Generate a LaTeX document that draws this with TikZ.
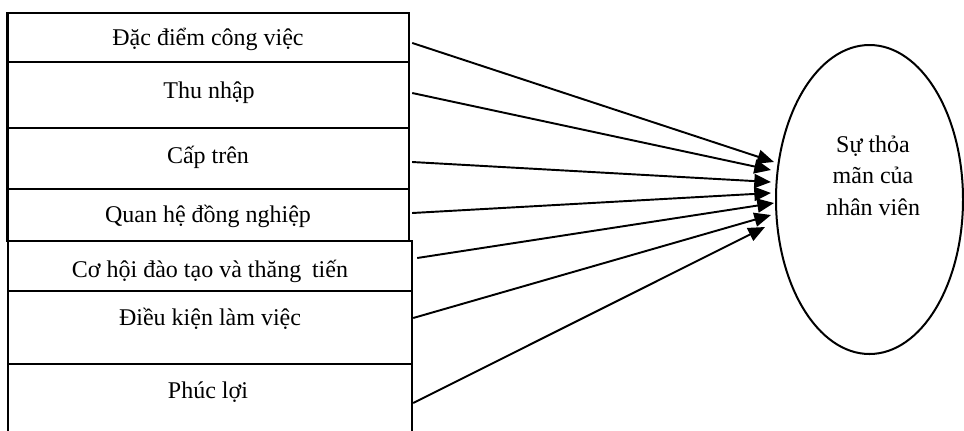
\documentclass[tikz,border=0pt]{standalone}
\usepackage{fontspec}
\setmainfont{Liberation Serif}
\usetikzlibrary{arrows.meta,shapes.geometric,calc,fit}
\begin{document}
\begin{tikzpicture}[x=0.75pt,y=-0.75pt,
  box/.style={draw,line width=1.8pt,inner sep=0pt},
  lbl/.style={anchor=base,inner sep=0pt,font=\fontsize{18}{22}\selectfont},
  goal/.style={draw,ellipse,line width=1.5pt,inner sep=0pt,minimum width=140.25pt,minimum height=231.75pt},
  arr/.style={line width=1.45pt,-{Triangle[length=12.5pt,width=10.5pt]}}]
\useasboundingbox (0,0) rectangle (964,430);
% boxes
\node[box,fit={(7.5,12.7) (409,62)}] (b1) {};
\node[box,fit={(7.5,62) (409,128)}] (b2) {};
\node[box,fit={(7.5,128) (409,189)}] (b3) {};
\node[box,fit={(7.5,189) (409,241)}] (b4) {};
\node[box,fit={(8,241) (412,291)}] (b5) {};
\node[box,fit={(8,291) (412,364)}] (b6) {};
\node[box,fit={(8,364) (412,436)}] (b7) {};
% labels
\node[lbl] (l1) at (208,45.7) {Đặc điểm công việc};
\node[lbl] (l2) at (209,98) {Thu nhập};
\node[lbl] (l3) at (208,163) {Cấp trên};
\node[lbl] (l4) at (208,222) {Quan hệ đồng nghiệp};
\node[lbl] (l5) at (210,277) {Cơ hội đào tạo và thăng\hspace{0.45em}tiến};
\node[lbl] (l6) at (210,325) {Điều kiện làm việc};
\node[lbl] (l7) at (208,398) {Phúc lợi};
% goal
\node[goal] (g) at (869.5,199.5) {};
\node[lbl,align=center,font=\fontsize{18}{23.6}\selectfont] (gt) at (873,215) {Sự thỏa\\mãn của\\nhân viên};
% arrow targets
\coordinate (t1) at (774,162);
\coordinate (t2) at (771,170);
\coordinate (t3) at (771,182);
\coordinate (t4) at (771,193);
\coordinate (t5) at (774,203);
\coordinate (t6) at (771,215);
\coordinate (t7) at (765,227);
% arrows
\draw[arr] ($(b1.east)+(2,5.6)$) -- (t1);
\draw[arr] ($(b2.east)+(2,-2)$) -- (t2);
\draw[arr] ($(b3.east)+(2,3.5)$) -- (t3);
\draw[arr] ($(b4.east)+(2,-2)$) -- (t4);
\draw[arr] ($(b5.east)+(4,-8)$) -- (t5);
\draw[arr] ($(b6.east)+(0,-9.5)$) -- (t6);
\draw[arr] ($(b7.east)+(0,3)$) -- (t7);
\end{tikzpicture}
\end{document}
